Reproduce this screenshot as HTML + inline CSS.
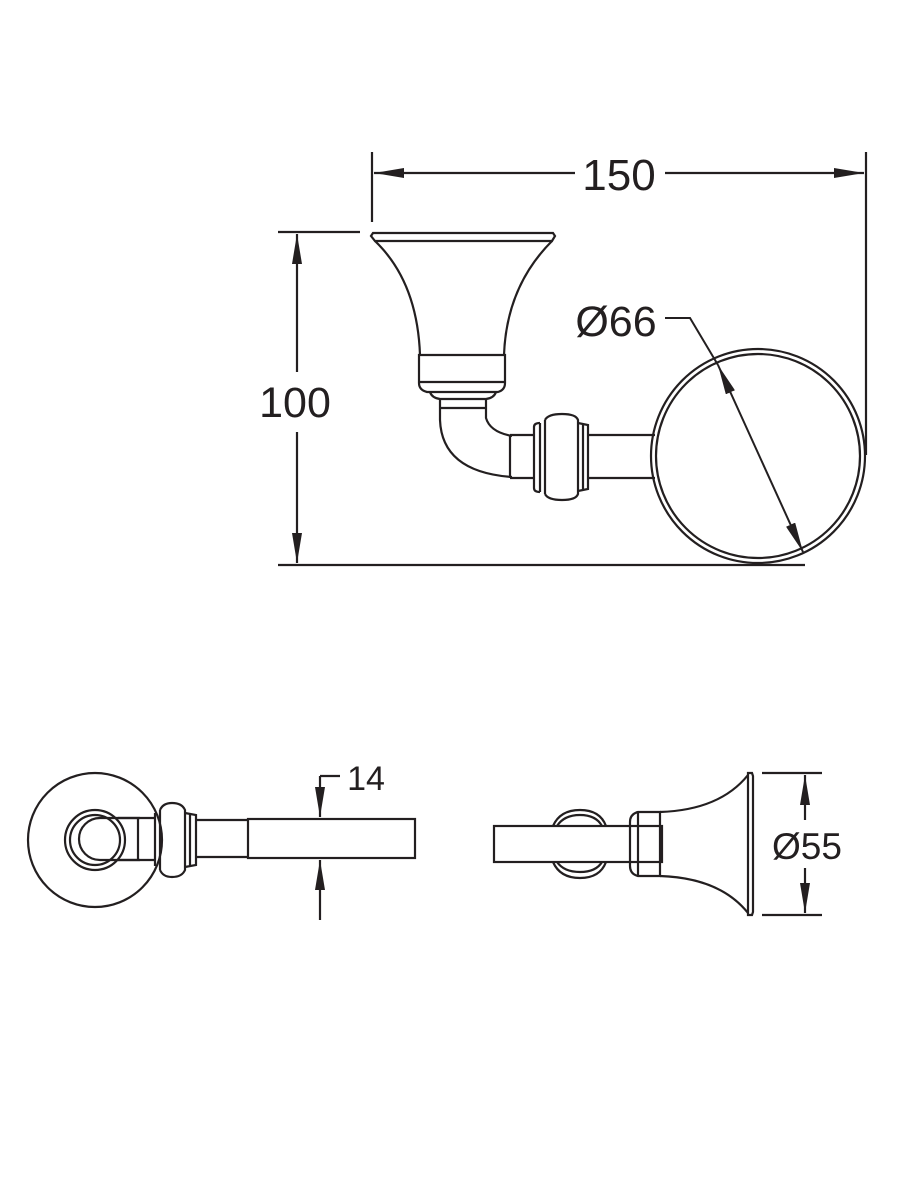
<!DOCTYPE html>
<html><head><meta charset="utf-8"><style>html,body{margin:0;padding:0;background:#fff}svg{display:block}text{font-family:"Liberation Sans",sans-serif;fill:#231f20}</style></head>
<body>
<svg width="900" height="1200" viewBox="0 0 900 1200" xmlns="http://www.w3.org/2000/svg" fill="none" stroke="#231f20" stroke-width="2.2">
<defs>
<marker id="b" viewBox="0 0 30 10" refX="30" refY="5" markerWidth="30" markerHeight="10" orient="auto-start-reverse" markerUnits="userSpaceOnUse"><path d="M0,0 L30,5 L0,10 Z" fill="#231f20" stroke="none"/></marker>
</defs>
<!-- 150 dim -->
<line x1="372" y1="152" x2="372" y2="222"/>
<line x1="866" y1="152" x2="866" y2="455"/>
<line x1="374" y1="173" x2="575" y2="173" marker-start="url(#b)"/>
<line x1="665" y1="173" x2="864" y2="173" marker-end="url(#b)"/>
<text x="619" y="190" font-size="44" text-anchor="middle" stroke="none">150</text>
<!-- 100 dim -->
<line x1="278" y1="232" x2="360" y2="232"/>
<line x1="278" y1="565" x2="805" y2="565"/>
<line x1="297" y1="234" x2="297" y2="372" marker-start="url(#b)"/>
<line x1="297" y1="432" x2="297" y2="563" marker-end="url(#b)"/>
<text x="295" y="417" font-size="43" text-anchor="middle" stroke="none">100</text>
<!-- bell -->
<path d="M373,233 L553,233 L555,236 L552,241 L375,241 L371,236 Z"/>
<path d="M375,241 C400,265 418,300 420,355 M552,241 C528,265 506,300 504,355"/>
<path d="M419,355 L505,355 L505,383 Q505,390 498,392 L427,392 Q419,390 419,383 Z"/>
<line x1="419" y1="382" x2="505" y2="382"/>
<path d="M430,392 Q432,398 440,399 L486,399 Q494,398 496,392"/>
<path d="M440,399 L440,408 M486,399 L486,408 M440,408 L486,408"/>
<!-- elbow -->
<path d="M440,408 L440,420 Q442,472 512,477 M486,408 L486,418 Q490,432 512,436"/>
<path d="M510,435 L534,435 M510,478 L534,478 M510,435 L510,478"/>
<path d="M534,427 L534,488 Q534,492 540,492 M534,427 Q534,423 540,423"/>
<path d="M540,423 L540,492 M545,420 L545,494"/>
<path d="M545,420 Q548,414 562,414 Q576,414 578,420 L578,494 Q576,500 562,500 Q548,500 545,494"/>
<path d="M578,423 L588,425 L588,489 L578,491 M583,424 L583,490"/>
<path d="M588,435 L655,435 M588,478 L655,478"/>
<!-- ring -->
<circle cx="758" cy="456" r="107"/>
<circle cx="758" cy="456" r="102"/>
<line x1="718" y1="365" x2="803" y2="552" marker-start="url(#b)" marker-end="url(#b)" stroke-width="2"/>
<polyline points="665,318 690,318 718,365" stroke-width="2"/>
<text x="616" y="336" font-size="43" text-anchor="middle" stroke="none">Ø66</text>
<!-- bottom left view -->
<circle cx="95" cy="840" r="67"/>
<circle cx="95" cy="840" r="30"/>
<circle cx="95" cy="840" r="25"/>
<path d="M140,818 L100,818 A21,21 0 0 0 100,860 L140,860"/>
<path d="M118,818 L155,818 M118,860 L155,860 M138,818 L138,860"/>
<path d="M155,813 L155,866 M160,810 L160,870"/>
<path d="M160,810 Q163,803 172,803 Q182,803 185,810 L185,870 Q182,877 172,877 Q163,877 160,870"/>
<path d="M185,813 L196,815 L196,865 L185,867 M190,814 L190,866"/>
<path d="M196,820 L248,820 M196,857 L248,857"/>
<rect x="248" y="819" width="167" height="39"/>
<line x1="320" y1="776" x2="320" y2="817" marker-end="url(#b)"/>
<line x1="340" y1="776" x2="320" y2="776"/>
<line x1="320" y1="920" x2="320" y2="860" marker-end="url(#b)"/>
<text x="366" y="790" font-size="34" text-anchor="middle" stroke="none">14</text>
<!-- bottom right view -->
<path d="M553,826 Q560,810 580,810 Q600,810 606,826 M557,826 Q564,815 580,815 Q596,815 602,826"/>
<path d="M553,862 Q560,878 580,878 Q600,878 606,862 M557,862 Q564,872 580,872 Q596,872 602,862"/>
<rect x="494" y="826" width="168" height="36"/>
<path d="M638,812 L660,812 L660,876 L638,876 Q630,874 630,866 L630,822 Q630,814 638,812 Z"/>
<line x1="638" y1="812" x2="638" y2="876"/>
<path d="M660,812 Q720,810 748,775 M660,876 Q720,878 748,913"/>
<path d="M748,773 L752,773 L753,776 L753,912 L752,915 L748,915 Z"/>
<line x1="762" y1="773" x2="822" y2="773"/>
<line x1="762" y1="915" x2="822" y2="915"/>
<line x1="805" y1="775" x2="805" y2="820" marker-start="url(#b)"/>
<line x1="805" y1="868" x2="805" y2="913" marker-end="url(#b)"/>
<text x="807" y="859" font-size="37" text-anchor="middle" stroke="none">Ø55</text>
</svg>
</body></html>
